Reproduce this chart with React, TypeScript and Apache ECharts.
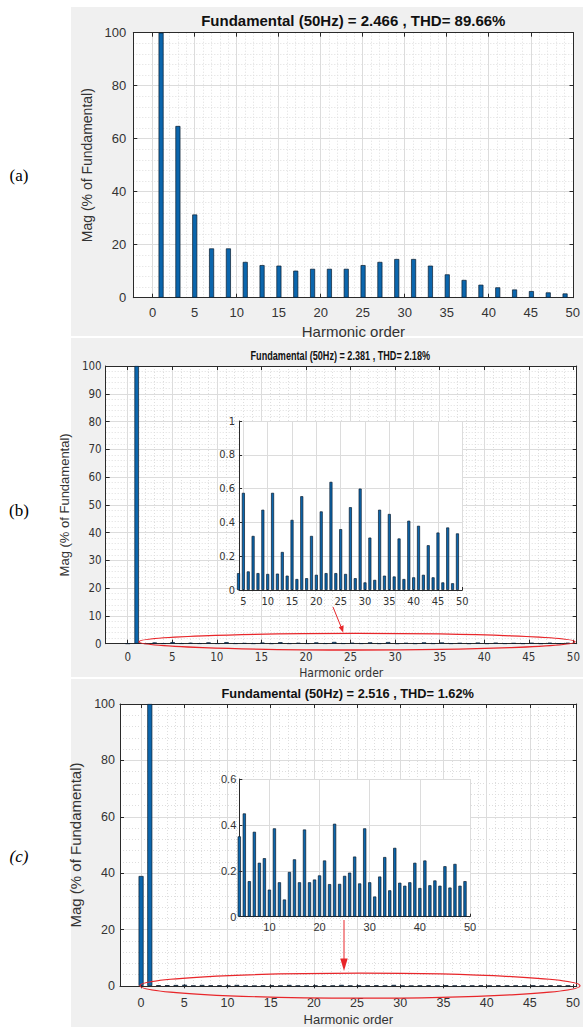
import React, { useEffect, useRef } from 'react';
import * as echarts from 'echarts';

// ---------- data ----------
const harmonicsA = [1, 3, 5, 7, 9, 11, 13, 15, 17, 19, 21, 23, 25, 27, 29, 31, 33, 35, 37, 39, 41, 43, 45, 47, 49];
const magA = [100, 64.8, 31.4, 18.6, 18.6, 13.5, 12.3, 12.1, 10.2, 10.9, 10.9, 10.9, 12.3, 13.5, 14.6, 14.6, 12.1, 8.8, 6.7, 4.9, 3.9, 3.1, 2.5, 2.0, 1.6];

const harmonicsBC = [0, 1, 2, 3, 4, 5, 6, 7, 8, 9, 10, 11, 12, 13, 14, 15, 16, 17, 18, 19, 20, 21, 22, 23, 24,
  25, 26, 27, 28, 29, 30, 31, 32, 33, 34, 35, 36, 37, 38, 39, 40, 41, 42, 43, 44, 45, 46, 47, 48, 49];
const magB = [0.05, 100, 0.08, 0.45,
  0.10, 0.575, 0.11, 0.32, 0.10, 0.475, 0.095, 0.575, 0.097, 0.225, 0.085, 0.415, 0.065, 0.555, 0.07, 0.32,
  0.09, 0.465, 0.10, 0.64, 0.10, 0.36, 0.095, 0.49, 0.07, 0.60, 0.045, 0.31, 0.06, 0.475, 0.085, 0.45,
  0.08, 0.305, 0.065, 0.41, 0.075, 0.38, 0.09, 0.265, 0.075, 0.34, 0.045, 0.37, 0.04, 0.335];
const magC = [39, 100, 0.3, 0.3,
  0.35, 0.45, 0.155, 0.37, 0.235, 0.255, 0.118, 0.385, 0.15, 0.075, 0.195, 0.25, 0.15, 0.38, 0.15, 0.162,
  0.18, 0.245, 0.142, 0.405, 0.143, 0.178, 0.192, 0.262, 0.145, 0.385, 0.15, 0.088, 0.175, 0.26, 0.115, 0.3,
  0.148, 0.135, 0.15, 0.235, 0.125, 0.245, 0.137, 0.158, 0.135, 0.22, 0.127, 0.23, 0.135, 0.155];

const titleA = 'Fundamental (50Hz) = 2.466 , THD= 89.66%';
const titleB = 'Fundamental (50Hz) = 2.381 , THD= 2.18%';
const titleC = 'Fundamental (50Hz) = 2.516 , THD= 1.62%';
const xName = 'Harmonic order';
const yName = 'Mag (% of Fundamental)';
const panelTags = ['(a)', '(b)', '(c)'];

// ---------- styles ----------
const FRAME = '#2a2a2a';
const GRID_MAJOR = '#dcdcdc';
const GRID_MINOR = '#dedede';
const LABEL = '#333333';
const BAR = '#0b66ad';
const BAR_EDGE = '#0c1c2e';
const PANEL_BG = '#f0f0f0';
const RED = '#e8262a';
const SANS = "'Liberation Sans', Arial, Helvetica, sans-serif";
const NARROW = "'Liberation Sans Narrow', 'Arial Narrow', 'DejaVu Sans Condensed', 'Liberation Sans', sans-serif";
const SERIF = "'Liberation Serif', 'Times New Roman', serif";

function addPanel(opt: any, s: any) {
  const g = opt.grid.length;
  const unit = s.width / (s.xMax - s.xMin);
  const labelLeft = s.left + (s.xLabelMin - s.xMin) * unit;
  opt.grid.push({ left: s.left, top: s.top, width: s.width, height: s.height, show: true, backgroundColor: '#ffffff', borderWidth: 0, z: s.z });
  opt.grid.push({ left: labelLeft, top: s.top, width: s.left + s.width - labelLeft, height: s.height, show: false, z: s.z });
  const frameLine = { show: true, onZero: false, lineStyle: { color: FRAME, width: 1 } };
  const tick = { show: true, inside: true, length: s.tickLen, lineStyle: { color: FRAME } };
  const txt = { fontFamily: s.fontFamily, fontSize: s.fontSize, color: LABEL };
  const dataX = opt.xAxis.length;
  opt.xAxis.push({
    type: 'value', gridIndex: g, min: s.xMin, max: s.xMax, position: 'bottom',
    axisLine: frameLine, axisTick: { show: false }, axisLabel: { show: false }, splitLine: { show: false },
    name: s.xName || '', nameLocation: 'middle', nameGap: s.xNameGap,
    nameTextStyle: { fontFamily: s.xNameFamily, fontSize: s.xNameSize, color: LABEL }, z: s.z + 2,
  });
  if (s.box) {
    opt.xAxis.push({
      type: 'value', gridIndex: g, min: s.xMin, max: s.xMax, position: 'top',
      axisLine: frameLine, axisTick: { show: false }, axisLabel: { show: false }, splitLine: { show: false }, z: s.z + 2,
    });
  }
  opt.xAxis.push({
    type: 'value', gridIndex: g + 1, min: s.xLabelMin, max: s.xMax, interval: s.xInterval, position: 'bottom',
    axisLine: { show: false }, axisTick: tick, axisLabel: { ...txt, margin: s.xLabelMargin },
    splitLine: { show: true, showMaxLine: !s.box, lineStyle: { color: GRID_MAJOR, width: 1 } },
    minorTick: { show: false, splitNumber: 5 },
    minorSplitLine: { show: s.minor, lineStyle: { color: GRID_MINOR, width: 1, type: [1, 2] } }, z: s.z + 1,
  });
  if (s.box) {
    opt.xAxis.push({
      type: 'value', gridIndex: g + 1, min: s.xLabelMin, max: s.xMax, interval: s.xInterval, position: 'top',
      axisLine: { show: false }, axisTick: tick, axisLabel: { show: false }, splitLine: { show: false }, z: s.z + 1,
    });
  }
  const dataY = opt.yAxis.length;
  opt.yAxis.push({
    type: 'value', gridIndex: g, min: 0, max: s.yMax, interval: s.yInterval, position: 'left',
    axisLine: frameLine, axisTick: tick, axisLabel: { ...txt, margin: s.yLabelMargin },
    splitLine: { show: true, showMinLine: false, showMaxLine: !s.box, lineStyle: { color: GRID_MAJOR, width: 1 } },
    minorTick: { show: false, splitNumber: 5 },
    minorSplitLine: { show: s.minor, lineStyle: { color: GRID_MINOR, width: 1, type: [1, 2] } },
    name: s.yName || '', nameLocation: 'middle', nameGap: s.yNameGap,
    nameTextStyle: { fontFamily: SANS, fontSize: s.yNameSize, color: LABEL }, z: s.z + 2,
  });
  if (s.box) {
    opt.yAxis.push({
      type: 'value', gridIndex: g, min: 0, max: s.yMax, interval: s.yInterval, position: 'right',
      axisLine: frameLine, axisTick: tick, axisLabel: { show: false }, splitLine: { show: false }, z: s.z + 2,
    });
  }
  opt.yAxis.push({ type: 'value', gridIndex: g + 1, min: 0, max: s.yMax, show: false });
  opt.series.push({
    type: 'bar', xAxisIndex: dataX, yAxisIndex: dataY, barWidth: s.barWidth, clip: true, silent: true,
    data: s.data, itemStyle: { color: BAR, borderColor: BAR_EDGE, borderWidth: 0.7 }, z: s.z + 2,
  });
}

function buildOption() {
  const opt: any = { animation: false, backgroundColor: '#ffffff', grid: [], xAxis: [], yAxis: [], series: [], graphic: [] };
  const pairsA = harmonicsA.map((h, i) => [h, magA[i]]);
  const pairsB = harmonicsBC.map((h, i) => [h, magB[i]]);
  const pairsC = harmonicsBC.map((h, i) => [h, magC[i]]);

  // (a)
  addPanel(opt, {
    left: 133.3, top: 32.7, width: 440.2, height: 265, xMin: -2.3, xMax: 50, xLabelMin: 0, xInterval: 5,
    yMax: 100, yInterval: 20, minor: true, box: true, fontFamily: SANS, fontSize: 13, tickLen: 4,
    xName, xNameGap: 26, xNameSize: 15, xNameFamily: SANS, yName, yNameGap: 35, yNameSize: 14,
    xLabelMargin: 8, yLabelMargin: 7, data: pairsA, barWidth: 5, z: 0,
  });
  // (b)
  addPanel(opt, {
    left: 105.7, top: 366, width: 471, height: 277.7, xMin: -2.45, xMax: 50, xLabelMin: 0, xInterval: 5,
    yMax: 100, yInterval: 10, minor: true, box: true, fontFamily: NARROW, fontSize: 11.5, tickLen: 4,
    xName, xNameGap: 23, xNameSize: 12, xNameFamily: NARROW, yName, yNameGap: 19, yNameSize: 13,
    xLabelMargin: 7, yLabelMargin: 4, data: pairsB, barWidth: 4.5, z: 0,
  });
  addPanel(opt, {
    left: 239, top: 421, width: 223.3, height: 169, xMin: 4.1, xMax: 50, xLabelMin: 5, xInterval: 5,
    yMax: 1, yInterval: 0.2, minor: false, box: false, fontFamily: NARROW, fontSize: 11, tickLen: 3,
    xLabelMargin: 6, yLabelMargin: 4, data: pairsB.filter((p) => p[0] >= 4), barWidth: 3, z: 10,
    xNameGap: 0, yNameGap: 0, xNameSize: 10, yNameSize: 10, xNameFamily: SANS,
  });
  // (c)
  addPanel(opt, {
    left: 120, top: 704, width: 456.7, height: 284.3, xMin: -2.42, xMax: 50, xLabelMin: 0, xInterval: 5,
    yMax: 100, yInterval: 20, minor: true, box: true, fontFamily: SANS, fontSize: 12.5, tickLen: 4,
    xName, xNameGap: 27, xNameSize: 13, xNameFamily: SANS, yName, yNameGap: 29, yNameSize: 15,
    xLabelMargin: 8, yLabelMargin: 5, data: pairsC, barWidth: 5, z: 0,
  });
  addPanel(opt, {
    left: 239.3, top: 779, width: 230.7, height: 137.7, xMin: 4, xMax: 50, xLabelMin: 10, xInterval: 10,
    yMax: 0.6, yInterval: 0.2, minor: false, box: false, fontFamily: SANS, fontSize: 11, tickLen: 3,
    xLabelMargin: 5, yLabelMargin: 3, data: pairsC.filter((p) => p[0] >= 4), barWidth: 3.2, z: 10,
    xNameGap: 0, yNameGap: 0, xNameSize: 10, yNameSize: 10, xNameFamily: SANS,
  });

  const g = opt.graphic;
  // panel backgrounds
  g.push({ type: 'rect', shape: { x: 71, y: 7, width: 512, height: 329 }, style: { fill: PANEL_BG }, z: -10, silent: true });
  g.push({ type: 'rect', shape: { x: 71, y: 338, width: 512, height: 339 }, style: { fill: PANEL_BG }, z: -10, silent: true });
  g.push({ type: 'rect', shape: { x: 71, y: 679, width: 512, height: 348 }, style: { fill: PANEL_BG }, z: -10, silent: true });
  // titles
  const title = (text: string, x: number, y: number, size: number, sx: number) => ({
    type: 'text', x, y, scaleX: sx, z: 20, silent: true,
    style: { text, fontFamily: SANS, fontSize: size, fontWeight: 'bold', fill: '#111111', textAlign: 'center', textVerticalAlign: 'middle' },
  });
  g.push(title(titleA, 353.3, 20.7, 15, 1));
  g.push(title(titleB, 340.3, 355, 13, 0.7));
  g.push(title(titleC, 347.7, 693.3, 13, 0.985));
  // panel tags
  const tag = (text: string, x: number, y: number, italic: boolean) => ({
    type: 'text', x, y, z: 20, silent: true,
    style: { text, fontFamily: SERIF, fontSize: 17, fontStyle: italic ? 'italic' : 'normal', fill: '#000000', textAlign: 'center', textVerticalAlign: 'middle' },
  });
  g.push(tag(panelTags[0], 19, 175, false));
  g.push(tag(panelTags[1], 19, 510, false));
  g.push(tag(panelTags[2], 19, 856, true));
  // red annotations
  g.push({ type: 'ellipse', shape: { cx: 357, cy: 641.7, rx: 218, ry: 8.3 }, style: { fill: 'transparent', stroke: RED, lineWidth: 1.3 }, z: 50, silent: true });
  g.push({ type: 'line', shape: { x1: 333, y1: 607, x2: 341.5, y2: 628 }, style: { stroke: RED, lineWidth: 1 }, z: 50, silent: true });
  g.push({ type: 'polygon', shape: { points: [[343.2, 632.5], [343.6, 625.3], [338.6, 627.3]] }, style: { fill: RED }, z: 50, silent: true });
  g.push({ type: 'ellipse', shape: { cx: 360, cy: 985.7, rx: 220, ry: 12.5 }, style: { fill: 'transparent', stroke: RED, lineWidth: 1.2 }, z: 50, silent: true });
  g.push({ type: 'line', shape: { x1: 344, y1: 920, x2: 344, y2: 962 }, style: { stroke: RED, lineWidth: 1 }, z: 50, silent: true });
  g.push({ type: 'polygon', shape: { points: [[344, 971], [340.3, 958.5], [347.7, 958.5]] }, style: { fill: RED }, z: 50, silent: true });
  return opt;
}

export default function App() {
  const ref = useRef<HTMLDivElement>(null);
  useEffect(() => {
    if (!ref.current) return;
    const chart = echarts.init(ref.current, undefined, { renderer: 'svg' });
    chart.setOption(buildOption());
    return () => chart.dispose();
  }, []);
  return <div ref={ref} style={{ position: 'absolute', left: 0, top: 0, width: 583, height: 1027 }} />;
}
